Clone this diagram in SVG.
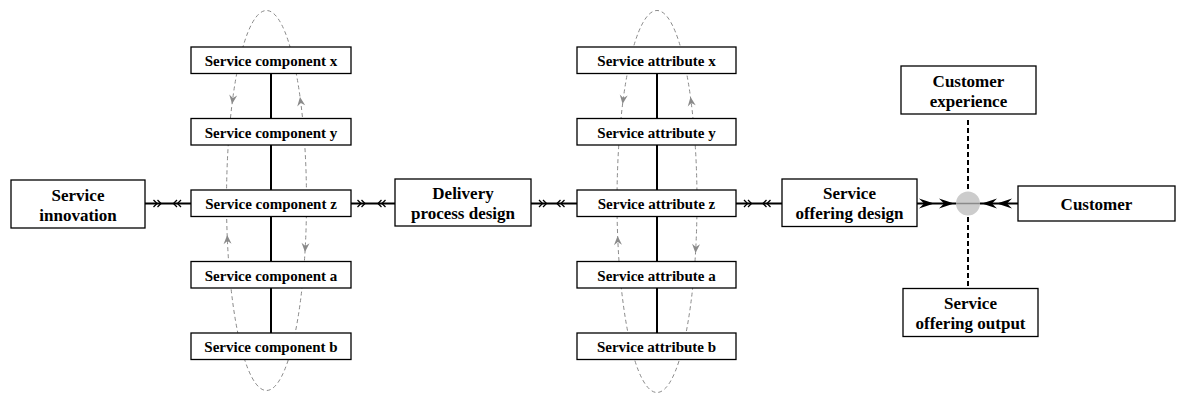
<svg xmlns="http://www.w3.org/2000/svg" xmlns:xlink="http://www.w3.org/1999/xlink" width="1177" height="394" viewBox="0 0 1177 394">
  <style>
    .box { fill: #ffffff; stroke: #000000; stroke-width: 1.3; }
    .lbl { font-family: "Liberation Serif", "Times New Roman", serif; font-weight: bold; font-size: 15px; fill: #000000; text-anchor: middle; }
    .big { font-size: 17px; }
    .link { stroke: #000000; stroke-width: 2; fill: none; }
    .chev { stroke: #000000; stroke-width: 1.3; fill: none; }
    .loop { stroke: #8a8a8a; stroke-width: 1; fill: none; stroke-dasharray: 4 3; }
    .axis { stroke: #000000; stroke-width: 2; fill: none; stroke-dasharray: 5 3; }
  </style>
  <defs>
    <!-- barbed arrowhead, tip at the origin, pointing along +x -->
    <path id="garrow" d="M0,0 L-9,-4 L-6,0 L-9,4 Z" fill="#8a8a8a"/>
    <path id="barb" d="M0,0 L-15,-5 L-10,0 L-15,5 Z" fill="#000000"/>
    <!-- double open chevrons -->
    <path id="fwd2" d="M-7.5,-3.5 L-4,0 L-7.5,3.5 M-3.5,-3.5 L0,0 L-3.5,3.5"/>
    <path id="back2" d="M7.5,-3.5 L4,0 L7.5,3.5 M3.5,-3.5 L0,0 L3.5,3.5"/>
  </defs>

  <!-- feedback loops behind the stacks -->
  <g id="loops">
    <ellipse class="loop" cx="266.5" cy="200.5" rx="40" ry="190"/>
    <ellipse class="loop" cx="657" cy="201.5" rx="40" ry="191"/>
    <use xlink:href="#garrow" transform="translate(232.1,104) rotate(97.1)"/>
    <use xlink:href="#garrow" transform="translate(300,97) rotate(-97.8)"/>
    <use xlink:href="#garrow" transform="translate(227.2,235) rotate(-92.2)"/>
    <use xlink:href="#garrow" transform="translate(305,252) rotate(93.4)"/>
    <use xlink:href="#garrow" transform="translate(622.6,104) rotate(97.1)"/>
    <use xlink:href="#garrow" transform="translate(690.5,97) rotate(-97.8)"/>
    <use xlink:href="#garrow" transform="translate(617.6,236) rotate(-92.2)"/>
    <use xlink:href="#garrow" transform="translate(695.5,253) rotate(93.4)"/>
  </g>

  <!-- connectors -->
  <g id="connectors">
    <line class="link" x1="271" y1="60" x2="271" y2="346"/>
    <line class="link" x1="657" y1="60" x2="657" y2="346"/>
    <line class="link" x1="145" y1="203.5" x2="191" y2="203.5"/>
    <line class="link" x1="351" y1="203.5" x2="395" y2="203.5"/>
    <line class="link" x1="531" y1="203.5" x2="577" y2="203.5"/>
    <line class="link" x1="736" y1="203.5" x2="782" y2="203.5"/>
    <line class="link" x1="917" y1="203.5" x2="956" y2="203.5"/>
    <line class="link" x1="980" y1="203.5" x2="1018" y2="203.5"/>
    <use class="chev" xlink:href="#fwd2" transform="translate(161,203.5)"/>
    <use class="chev" xlink:href="#back2" transform="translate(173.5,203.5)"/>
    <use class="chev" xlink:href="#fwd2" transform="translate(365,203.5)"/>
    <use class="chev" xlink:href="#back2" transform="translate(378,203.5)"/>
    <use class="chev" xlink:href="#fwd2" transform="translate(546.5,203.5)"/>
    <use class="chev" xlink:href="#back2" transform="translate(557,203.5)"/>
    <use class="chev" xlink:href="#fwd2" transform="translate(751.5,203.5)"/>
    <use class="chev" xlink:href="#back2" transform="translate(763,203.5)"/>
    <use xlink:href="#barb" transform="translate(934,203.5)"/>
    <use xlink:href="#barb" transform="translate(954,203.5)"/>
    <use xlink:href="#barb" transform="translate(982,203.5) rotate(180)"/>
    <use xlink:href="#barb" transform="translate(997,203.5) rotate(180)"/>
    <line class="axis" x1="968" y1="120" x2="968" y2="190"/>
    <line class="axis" x1="968" y1="217" x2="968" y2="288"/>
  </g>

  <g id="hub">
    <circle cx="968" cy="203.5" r="12" fill="#cccccc"/>
    <line x1="956" y1="203.5" x2="980" y2="203.5" stroke="#8a8a8a" stroke-width="1.5"/>
  </g>

  <g id="service-innovation">
    <rect class="box" x="11" y="180" width="134" height="48"/>
    <text class="lbl big" x="78" y="200.5">Service</text>
    <text class="lbl big" x="78" y="220.5">innovation</text>
  </g>

  <g id="component-x">
    <rect class="box" x="191" y="47" width="160" height="26.5"/>
    <text class="lbl" x="271" y="66">Service component x</text>
  </g>
  <g id="component-y">
    <rect class="box" x="191" y="118.5" width="160" height="26.5"/>
    <text class="lbl" x="271" y="137.5">Service component y</text>
  </g>
  <g id="component-z">
    <rect class="box" x="191" y="190" width="160" height="26.5"/>
    <text class="lbl" x="271" y="209">Service component z</text>
  </g>
  <g id="component-a">
    <rect class="box" x="191" y="261.5" width="160" height="26.5"/>
    <text class="lbl" x="271" y="280.5">Service component a</text>
  </g>
  <g id="component-b">
    <rect class="box" x="191" y="333" width="160" height="26.5"/>
    <text class="lbl" x="271" y="352">Service component b</text>
  </g>

  <g id="delivery-process-design">
    <rect class="box" x="395" y="179" width="136" height="47"/>
    <text class="lbl big" x="463" y="199">Delivery</text>
    <text class="lbl big" x="463" y="219">process design</text>
  </g>

  <g id="attribute-x">
    <rect class="box" x="577" y="47" width="159" height="26.5"/>
    <text class="lbl" x="656.5" y="66">Service attribute x</text>
  </g>
  <g id="attribute-y">
    <rect class="box" x="577" y="118.5" width="159" height="26.5"/>
    <text class="lbl" x="656.5" y="137.5">Service attribute y</text>
  </g>
  <g id="attribute-z">
    <rect class="box" x="577" y="190" width="159" height="26.5"/>
    <text class="lbl" x="656.5" y="209">Service attribute z</text>
  </g>
  <g id="attribute-a">
    <rect class="box" x="577" y="261.5" width="159" height="26.5"/>
    <text class="lbl" x="656.5" y="280.5">Service attribute a</text>
  </g>
  <g id="attribute-b">
    <rect class="box" x="577" y="333" width="159" height="26.5"/>
    <text class="lbl" x="656.5" y="352">Service attribute b</text>
  </g>

  <g id="service-offering-design">
    <rect class="box" x="782" y="179" width="135" height="47.5"/>
    <text class="lbl big" x="849.5" y="199">Service</text>
    <text class="lbl big" x="849.5" y="219">offering design</text>
  </g>

  <g id="customer-experience">
    <rect class="box" x="901" y="66" width="135" height="48"/>
    <text class="lbl big" x="968.5" y="86.5">Customer</text>
    <text class="lbl big" x="968.5" y="106.5">experience</text>
  </g>

  <g id="service-offering-output">
    <rect class="box" x="903" y="288.5" width="135" height="48"/>
    <text class="lbl big" x="970.5" y="309">Service</text>
    <text class="lbl big" x="970.5" y="329">offering output</text>
  </g>

  <g id="customer">
    <rect class="box" x="1018" y="186" width="157" height="35"/>
    <text class="lbl big" x="1096.5" y="209.5">Customer</text>
  </g>
</svg>
